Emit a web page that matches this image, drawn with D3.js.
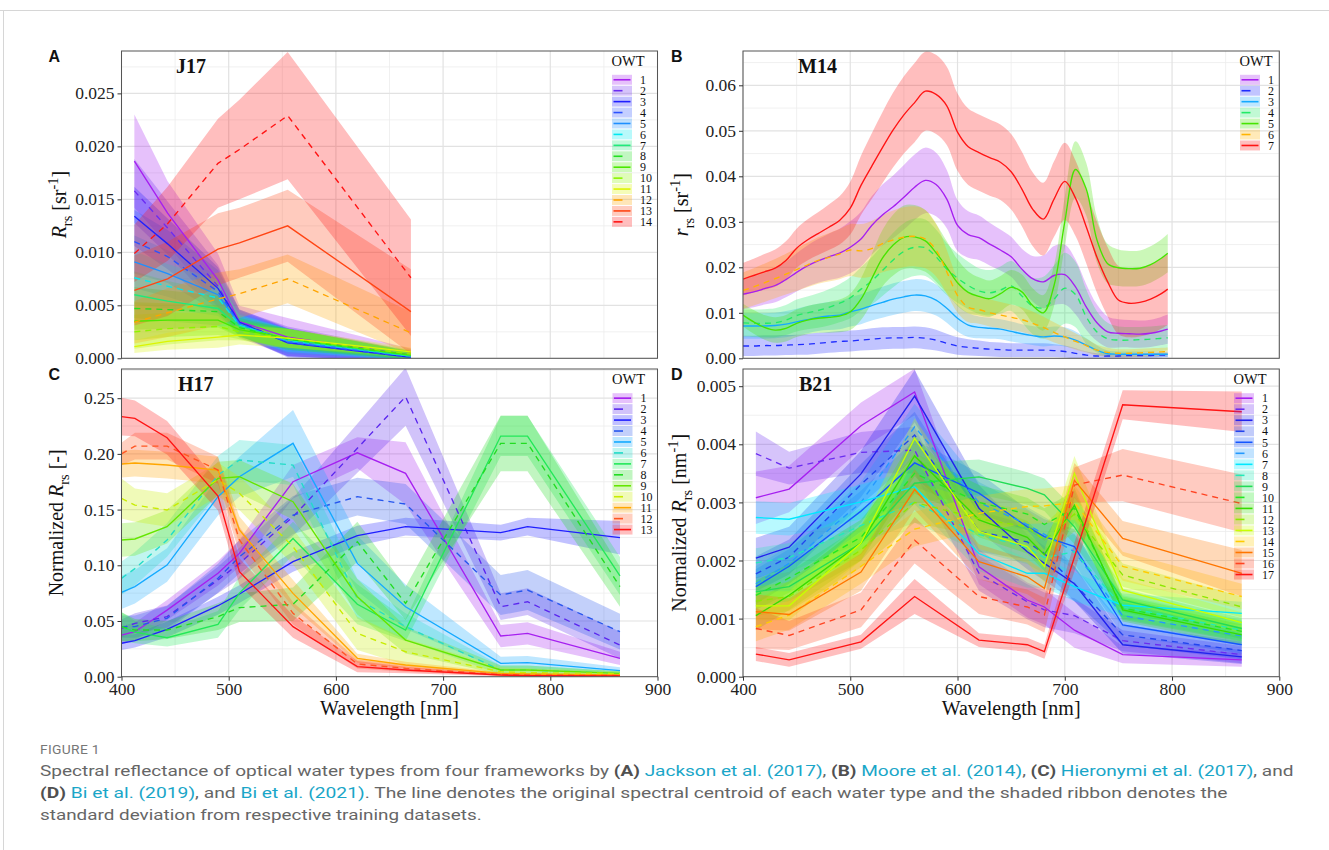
<!DOCTYPE html>
<html>
<head>
<meta charset="utf-8">
<script src="https://cdn.jsdelivr.net/npm/d3@7"></script>
<style>
  body { margin: 0; background: #fff; }
  svg { display: block; }
</style>
</head>
<body>
<svg id="fig" width="1329" height="850"></svg>
<script>
// ---------------- J17 (Jackson et al. 2017) ----------------
const j17Wavelengths = [412, 443, 490, 510, 555, 670];
const j17Labels = ["1","2","3","4","5","6","7","8","9","10","11","12","13","14"];
const j17Mean = [
  [0.0186, 0.0137, 0.0074, 0.00345, 0.0020, 0.0003],
  [0.0158, 0.0123, 0.0068, 0.0034, 0.0016, 0.0002],
  [0.0134, 0.0108, 0.0066, 0.0034, 0.00147, 0.0001],
  [0.0110, 0.0096, 0.0063, 0.0033, 0.0015, 0.0001],
  [0.0091, 0.0080, 0.0060, 0.0032, 0.0016, 0.0002],
  [0.0076, 0.0068, 0.0057, 0.0031, 0.0017, 0.0002],
  [0.0060, 0.0054, 0.0047, 0.0030, 0.0018, 0.0002],
  [0.0047, 0.0046, 0.0044, 0.0029, 0.0018, 0.0003],
  [0.0035, 0.0036, 0.0036, 0.0027, 0.0019, 0.0003],
  [0.0025, 0.0028, 0.0030, 0.0025, 0.0019, 0.0004],
  [0.0011, 0.0016, 0.0020, 0.0022, 0.0019, 0.0006],
  [0.0034, 0.0043, 0.0056, 0.0061, 0.0075, 0.0024],
  [0.0064, 0.0075, 0.0103, 0.0109, 0.0125, 0.0044],
  [0.0099, 0.0127, 0.0184, 0.0197, 0.0229, 0.0076]
];
const j17Sd = [
  [0.0044, 0.0030, 0.0025, 0.0015, 0.0018, 0.0006],
  [0.0030, 0.0025, 0.0020, 0.0012, 0.0014, 0.0005],
  [0.0028, 0.0024, 0.0020, 0.0012, 0.0014, 0.0005],
  [0.0030, 0.0025, 0.0020, 0.0012, 0.0013, 0.0005],
  [0.0025, 0.0022, 0.0018, 0.0011, 0.0012, 0.0004],
  [0.0025, 0.0021, 0.0017, 0.0010, 0.0011, 0.0004],
  [0.0022, 0.0019, 0.0016, 0.0010, 0.0010, 0.0004],
  [0.0020, 0.0018, 0.0015, 0.0009, 0.0010, 0.0004],
  [0.0018, 0.0016, 0.0014, 0.0009, 0.0009, 0.0004],
  [0.0016, 0.0015, 0.0013, 0.0008, 0.0009, 0.0004],
  [0.0006, 0.0008, 0.0010, 0.0009, 0.0009, 0.0004],
  [0.0020, 0.0023, 0.0025, 0.0023, 0.0023, 0.0020],
  [0.0033, 0.0035, 0.0034, 0.0033, 0.0034, 0.0040],
  [0.0027, 0.0035, 0.0042, 0.0047, 0.0060, 0.0055]
];
const j17Ticks = [0, 0.005, 0.010, 0.015, 0.020, 0.025];

// ---------------- M14 (Moore et al. 2014) ----------------
const m14Wavelengths = [400,410,420,430,440,450,460,470,480,490,500,510,520,530,540,550,560,570,580,590,
  600,610,620,630,640,650,660,670,680,690,700,710,720,730,740,750,760,770,780,790,796];
const m14Labels = ["1","2","3","4","5","6","7"];
const m14Mean = [
  [.0141,.0146,.0153,.0160,.0173,.0189,.0203,.0214,.0223,.0231,.0244,.0262,.0292,.0315,.0333,.0354,.0376,.0391,.0382,.0350,
   .0292,.0272,.0265,.0251,.0238,.0223,.0196,.0175,.0168,.0182,.0184,.0157,.0113,.0078,.0058,.0055,.0054,.0053,.0055,.0060,.0064],
  [.0027,.0027,.0028,.0028,.0029,.0030,.0031,.0033,.0035,.0037,.0038,.0040,.0042,.0044,.0045,.0045,.0046,.0044,.0040,.0033,
   .0027,.0024,.0022,.0020,.0019,.0018,.0018,.0018,.0018,.0017,.0015,.0011,.0007,.0005,.0005,.0005,.0006,.0006,.0006,.0007,.0007],
  [.0071,.0071,.0071,.0072,.0075,.0080,.0085,.0090,.0093,.0095,.0102,.0108,.0116,.0123,.0130,.0135,.0139,.0137,.0128,.0110,
   .0088,.0073,.0068,.0066,.0064,.0059,.0054,.0050,.0047,.0049,.0047,.0040,.0029,.0018,.0010,.0009,.0009,.0009,.0009,.0009,.0009],
  [.0078,.0077,.0077,.0078,.0084,.0094,.0100,.0105,.0112,.0121,.0133,.0152,.0170,.0193,.0216,.0235,.0244,.0243,.0223,.0196,
   .0176,.0160,.0148,.0144,.0150,.0159,.0137,.0115,.0111,.0130,.0154,.0140,.0091,.0058,.0043,.0040,.0040,.0041,.0042,.0044,.0045],
  [.0095,.0080,.0068,.0062,.0066,.0077,.0084,.0088,.0090,.0093,.0102,.0130,.0175,.0220,.0249,.0266,.0267,.0258,.0232,.0200,
   .0166,.0145,.0136,.0131,.0142,.0156,.0146,.0116,.0100,.0160,.0300,.0415,.0372,.0260,.0208,.0199,.0197,.0198,.0206,.0220,.0231],
  [.0149,.0157,.0166,.0175,.0185,.0195,.0205,.0215,.0222,.0229,.0238,.0236,.0241,.0252,.0260,.0266,.0268,.0262,.0238,.0190,
   .0138,.0112,.0107,.0100,.0095,.0090,.0085,.0077,.0068,.0057,.0047,.0037,.0028,.0018,.0013,.0011,.0011,.0012,.0013,.0014,.0015],
  [.0174,.0182,.0190,.0198,.0215,.0242,.0260,.0274,.0288,.0303,.0330,.0380,.0422,.0463,.0502,.0535,.0562,.0587,.0580,.0555,
   .0497,.0465,.0452,.0441,.0431,.0410,.0372,.0328,.0306,.0350,.0389,.0352,.0289,.0222,.0168,.0128,.0121,.0123,.0130,.0142,.0152]
];
const m14Sd = [
  [.0033,.0034,.0035,.0037,.0039,.0042,.0045,.0048,.0051,.0054,.0057,.0060,.0064,.0067,.0069,.0071,.0072,.0072,.0070,.0064,
   .0056,.0051,.0049,.0047,.0045,.0044,.0045,.0050,.0058,.0065,.0066,.0060,.0050,.0040,.0034,.0031,.0030,.0030,.0030,.0031,.0032],
  [.0022,.0022,.0022,.0022,.0022,.0022,.0023,.0023,.0023,.0023,.0023,.0023,.0024,.0024,.0024,.0024,.0024,.0024,.0023,.0021,
   .0019,.0018,.0017,.0016,.0016,.0015,.0015,.0015,.0015,.0014,.0013,.0011,.0008,.0006,.0005,.0005,.0005,.0005,.0005,.0005,.0005],
  [.0028,.0028,.0028,.0028,.0029,.0029,.0030,.0030,.0031,.0031,.0032,.0033,.0033,.0034,.0035,.0035,.0035,.0035,.0034,.0032,
   .0029,.0026,.0024,.0023,.0022,.0022,.0021,.0021,.0021,.0021,.0021,.0019,.0015,.0010,.0007,.0006,.0006,.0006,.0006,.0006,.0006],
  [.0030,.0030,.0031,.0032,.0033,.0035,.0036,.0038,.0040,.0042,.0045,.0048,.0052,.0056,.0060,.0062,.0063,.0062,.0060,.0057,
   .0054,.0052,.0050,.0050,.0052,.0055,.0058,.0062,.0068,.0074,.0078,.0072,.0060,.0045,.0035,.0030,.0029,.0028,.0028,.0028,.0028],
  [.0025,.0026,.0027,.0028,.0029,.0030,.0031,.0032,.0034,.0036,.0040,.0046,.0054,.0062,.0067,.0070,.0070,.0068,.0063,.0057,
   .0051,.0046,.0042,.0040,.0039,.0038,.0038,.0038,.0039,.0045,.0055,.0062,.0058,.0050,.0043,.0040,.0039,.0039,.0040,.0041,.0042],
  [.0040,.0041,.0042,.0043,.0045,.0047,.0049,.0051,.0053,.0055,.0057,.0059,.0061,.0063,.0065,.0066,.0066,.0064,.0058,.0048,
   .0038,.0033,.0031,.0030,.0029,.0028,.0027,.0026,.0024,.0022,.0020,.0018,.0015,.0012,.0010,.0009,.0009,.0009,.0009,.0009,.0009],
  [.0036,.0037,.0039,.0041,.0042,.0043,.0045,.0047,.0050,.0053,.0058,.0065,.0072,.0078,.0082,.0085,.0087,.0087,.0087,.0086,
   .0085,.0084,.0084,.0084,.0083,.0083,.0082,.0081,.0080,.0083,.0085,.0083,.0080,.0078,.0076,.0075,.0075,.0075,.0076,.0077,.0078]
];
const m14Ticks = [0, 0.01, 0.02, 0.03, 0.04, 0.05, 0.06];

// ---------------- H17 (Hieronymi et al. 2017) ----------------
const h17Wavelengths = [400, 412.5, 442.5, 490, 510, 560, 620, 665, 753.75, 778.75, 865];
const h17Labels = ["1","2","3","4","5","6","7","8","9","10","11","12","13"];
const h17Mean = [
  [.0374, .0404, .0598, .0928, .1107, .1750, .2010, .1825, .0365, .0389, .0165],
  [.0434, .0479, .0539, .0868, .1017, .1436, .2050, .2513, .0628, .0673, .0284],
  [.0300, .0323, .0425, .0637, .0742, .1032, .1266, .1347, .1293, .1347, .1248],
  [.0450, .0450, .0524, .0883, .1077, .1451, .1616, .1550, .0733, .0778, .0404],
  [.0757, .0808, .1002, .1616, .1795, .2095, .1017, .0628, .0120, .0126, .0054],
  [.0883, .0970, .1227, .1810, .1945, .1900, .0700, .0450, .0060, .0060, .0030],
  [.0450, .0400, .0350, .0470, .0750, .1240, .0650, .0419, .2160, .2160, .0904],
  [.0449, .0419, .0419, .0539, .0620, .0650, .1212, .0658, .2095, .2095, .0808],
  [.1227, .1236, .1346, .1780, .1795, .1571, .0718, .0329, .0060, .0060, .0030],
  [.1600, .1540, .1496, .1770, .1646, .1167, .0389, .0224, .0045, .0036, .0030],
  [.1909, .1918, .1900, .1855, .1317, .0748, .0165, .0105, .0030, .0024, .0015],
  [.2000, .2070, .2070, .1855, .1227, .0569, .0114, .0075, .0020, .0015, .0010],
  [.2334, .2319, .2145, .1622, .0943, .0449, .0090, .0060, .0015, .0009, .0006]
];
const h17Sd = [
  [.008, .008, .009, .011, .012, .015, .014, .028, .010, .010, .006],
  [.008, .009, .010, .012, .014, .017, .022, .026, .012, .012, .012],
  [.006, .006, .007, .008, .008, .009, .009, .008, .007, .008, .015],
  [.010, .010, .011, .013, .015, .017, .017, .018, .018, .018, .016],
  [.015, .015, .015, .017, .018, .030, .025, .020, .006, .006, .003],
  [.015, .015, .015, .017, .018, .018, .018, .012, .004, .004, .002],
  [.013, .010, .008, .012, .015, .015, .018, .010, .018, .018, .017],
  [.013, .010, .008, .012, .013, .015, .018, .015, .025, .025, .018],
  [.015, .015, .015, .015, .015, .016, .016, .012, .004, .004, .002],
  [.018, .015, .015, .015, .015, .016, .015, .012, .004, .004, .002],
  [.012, .012, .012, .012, .012, .012, .004, .003, .001, .001, .001],
  [.010, .012, .012, .012, .012, .010, .004, .003, .001, .001, .001],
  [.017, .016, .015, .013, .012, .010, .005, .003, .001, .001, .001]
];
const h17Ticks = [0, 0.05, 0.10, 0.15, 0.20, 0.25];

// ---------------- B21 (Bi et al. 2019, 2021) ----------------
const b21Wavelengths = [412, 443, 510, 560, 620, 665, 681, 709, 754, 865];
const b21Labels = ["1","2","3","4","5","6","7","8","9","10","11","12","13","14","15","16","17"];
const b21Mean = [
  [.00308, .00323, .00432, .00490, .00189, .00132, .00120, .00080, .00038, .00029],
  [.00384, .00359, .00386, .00390, .00178, .00129, .00115, .00105, .00062, .00038],
  [.00204, .00223, .00349, .00483, .00290, .00215, .00195, .00160, .00055, .00034],
  [.00177, .00206, .00331, .00416, .00250, .00232, .00212, .00160, .00072, .00045],
  [.00155, .00190, .00285, .00368, .00316, .00258, .00241, .00224, .00089, .00055],
  [.00160, .00195, .00300, .00430, .00300, .00262, .00245, .00215, .00105, .00070],
  [.00274, .00271, .00301, .00327, .00212, .00178, .00178, .00155, .00123, .00109],
  [.00196, .00205, .00260, .00300, .00245, .00222, .00205, .00215, .00120, .00080],
  [.00146, .00155, .00230, .00333, .00344, .00324, .00313, .00258, .00132, .00083],
  [.00140, .00170, .00240, .00350, .00300, .00280, .00262, .00290, .00118, .00078],
  [.00105, .00140, .00230, .00380, .00270, .00240, .00210, .00295, .00115, .00072],
  [.00130, .00138, .00218, .00300, .00272, .00258, .00235, .00280, .00175, .00120],
  [.00122, .00122, .00230, .00410, .00250, .00224, .00190, .00350, .00149, .00093],
  [.00086, .00106, .00190, .00254, .00281, .00293, .00294, .00300, .00190, .00138],
  [.00112, .00107, .00180, .00322, .00198, .00172, .00152, .00338, .00238, .00178],
  [.00083, .00071, .00115, .00235, .00138, .00120, .00106, .00330, .00347, .00298],
  [.00039, .00029, .00060, .00138, .00063, .00055, .00043, .00206, .00468, .00456]
];
const b21Sd = [
  [.00045, .00040, .00040, .00040, .00030, .00030, .00030, .00030, .00015, .00012],
  [.00038, .00028, .00035, .00040, .00030, .00030, .00030, .00030, .00018, .00015],
  [.00035, .00035, .00040, .00045, .00040, .00030, .00030, .00030, .00015, .00012],
  [.00030, .00030, .00035, .00040, .00035, .00030, .00030, .00030, .00018, .00015],
  [.00030, .00030, .00035, .00040, .00035, .00030, .00030, .00030, .00018, .00015],
  [.00030, .00030, .00035, .00040, .00035, .00030, .00030, .00030, .00018, .00015],
  [.00028, .00028, .00030, .00030, .00030, .00025, .00025, .00025, .00020, .00020],
  [.00025, .00025, .00030, .00035, .00030, .00028, .00028, .00030, .00020, .00018],
  [.00025, .00025, .00030, .00035, .00030, .00028, .00028, .00030, .00020, .00018],
  [.00025, .00025, .00030, .00035, .00030, .00028, .00028, .00030, .00020, .00018],
  [.00025, .00025, .00030, .00035, .00030, .00028, .00028, .00030, .00020, .00018],
  [.00025, .00025, .00030, .00035, .00030, .00028, .00028, .00030, .00020, .00018],
  [.00025, .00025, .00030, .00035, .00030, .00028, .00028, .00030, .00020, .00018],
  [.00025, .00025, .00030, .00030, .00030, .00030, .00030, .00030, .00025, .00022],
  [.00030, .00028, .00032, .00035, .00030, .00030, .00030, .00030, .00030, .00040],
  [.00035, .00025, .00030, .00040, .00030, .00030, .00030, .00030, .00045, .00050],
  [.00012, .00012, .00012, .00030, .00012, .00012, .00012, .00025, .00025, .00035]
];
const b21Ticks = [0, 0.001, 0.002, 0.003, 0.004, 0.005];

const wavelengthTicks = [400, 500, 600, 700, 800, 900];

// Colour palettes (odd types solid, even types dashed)
const j17Colors = ["#a61ff0","#6b2cf2","#1f1fff","#2b52ff","#1e8fff","#00e8f0","#1fea7a","#22e022","#4ae800","#8cf500","#dcf500","#ffa400","#ff4514","#ff1414"];
const m14Colors = ["#a61ff0","#1f2cff","#14aaff","#22ea66","#46e400","#ffb400","#ff1414"];
const h17Colors = ["#a61ff0","#5a26ee","#1f1fff","#2656ee","#14aaff","#22dcc8","#22e858","#22dc22","#64e600","#c8ec00","#ffa600","#ff5522","#ff1414"];
const b21Colors = ["#a61ff0","#6a2cf0","#2222ee","#2244ee","#1456ff","#2399ff","#00e8ff","#22eab8","#22dc55","#22e822","#36dc00","#8ce800","#c8ff00","#ffcc00","#ff7600","#ff4422","#ff1414"];

const SERIF = '"Liberation Serif","Times New Roman",Times,serif';
const SANS = '"Liberation Sans",Arial,Helvetica,sans-serif';
const svg = d3.select("#fig");

// page frame
svg.append("line").attr("x1", 0).attr("x2", 1329).attr("y1", 10.5).attr("y2", 10.5)
  .attr("stroke", "#d6d6d6").attr("stroke-width", 1);
svg.append("line").attr("x1", 3.5).attr("x2", 3.5).attr("y1", 10.5).attr("y2", 850)
  .attr("stroke", "#d6d6d6").attr("stroke-width", 1);

let clipId = 0;

function addRichText(sel, parts, size) {
  // parts: {t, it, sub, sup}
  let shift = 0;
  parts.forEach(p => {
    const ts = sel.append("tspan").text(p.t);
    let target = 0;
    if (p.sub) { target = size * 0.32; ts.attr("font-size", size * 0.72); }
    else if (p.sup) { target = -size * 0.42; ts.attr("font-size", size * 0.72); }
    if (p.it) ts.attr("font-style", "italic");
    if (target !== shift) { ts.attr("dy", target - shift); shift = target; }
  });
}

function drawPanel(cfg) {
  const x = d3.scaleLinear().domain([400, 900]).range([cfg.left, cfg.right]);
  const y = d3.scaleLinear().domain([0, cfg.ymax]).range([cfg.bottom, cfg.top]);
  const g = svg.append("g");

  g.append("rect").attr("x", cfg.left).attr("y", cfg.top)
    .attr("width", cfg.right - cfg.left).attr("height", cfg.bottom - cfg.top).attr("fill", "#fff");

  // minor grid
  const minorX = [450, 550, 650, 750, 850];
  const minorY = [];
  for (let i = 0; i < cfg.ticks.length; i++) {
    const v = cfg.ticks[i] + cfg.step / 2;
    if (v < cfg.ymax) minorY.push(v);
  }
  g.selectAll(null).data(minorX).enter().append("line")
    .attr("x1", d => x(d)).attr("x2", d => x(d)).attr("y1", cfg.top).attr("y2", cfg.bottom)
    .attr("stroke", "#ececec").attr("stroke-width", 0.8);
  g.selectAll(null).data(minorY).enter().append("line")
    .attr("x1", cfg.left).attr("x2", cfg.right).attr("y1", d => y(d)).attr("y2", d => y(d))
    .attr("stroke", "#ececec").attr("stroke-width", 0.8);
  // major grid
  g.selectAll(null).data(wavelengthTicks).enter().append("line")
    .attr("x1", d => x(d)).attr("x2", d => x(d)).attr("y1", cfg.top).attr("y2", cfg.bottom)
    .attr("stroke", "#e2e2e2").attr("stroke-width", 1.2);
  g.selectAll(null).data(cfg.ticks).enter().append("line")
    .attr("x1", cfg.left).attr("x2", cfg.right).attr("y1", d => y(d)).attr("y2", d => y(d))
    .attr("stroke", "#e2e2e2").attr("stroke-width", 1.2);

  // clip to plotting region
  const cid = "clip" + (clipId++);
  svg.append("clipPath").attr("id", cid).append("rect")
    .attr("x", cfg.left).attr("y", cfg.top)
    .attr("width", cfg.right - cfg.left).attr("height", cfg.bottom - cfg.top);
  const plot = g.append("g").attr("clip-path", `url(#${cid})`);

  const series = cfg.mean.map((vals, i) => ({
    i,
    pts: vals.map((v, k) => ({ w: cfg.wl[k], v, sd: cfg.sd[i][k] }))
  }));

  const area = d3.area().curve(cfg.curve)
    .x(d => x(d.w)).y0(d => y(d.v - d.sd)).y1(d => y(d.v + d.sd));
  const line = d3.line().curve(cfg.curve).x(d => x(d.w)).y(d => y(d.v));

  plot.selectAll("path.rib").data(series).enter().append("path")
    .attr("class", "rib")
    .attr("d", d => area(d.pts))
    .attr("fill", d => cfg.colors[d.i]).attr("fill-opacity", 0.28).attr("stroke", "none");

  plot.selectAll("path.ln").data(series).enter().append("path")
    .attr("class", "ln")
    .attr("d", d => line(d.pts))
    .attr("fill", "none").attr("stroke", d => cfg.colors[d.i]).attr("stroke-width", 1.35)
    .attr("stroke-dasharray", d => d.i % 2 === 1 ? "6,5" : null);

  // panel border
  g.append("rect").attr("x", cfg.left).attr("y", cfg.top)
    .attr("width", cfg.right - cfg.left).attr("height", cfg.bottom - cfg.top)
    .attr("fill", "none").attr("stroke", "#555").attr("stroke-width", 1);

  // y axis
  const yAxis = g.append("g").attr("transform", `translate(${cfg.left},0)`)
    .call(d3.axisLeft(y).tickValues(cfg.ticks).tickFormat(d3.format(cfg.fmt)).tickSize(4).tickPadding(3));
  yAxis.select(".domain").remove();
  yAxis.selectAll(".tick line").attr("stroke", "#333");
  yAxis.selectAll(".tick text").attr("font-family", SERIF).attr("font-size", 17.5).attr("fill", "#222");

  // x axis (bottom row only)
  if (cfg.showX) {
    const xAxis = g.append("g").attr("transform", `translate(0,${cfg.bottom})`)
      .call(d3.axisBottom(x).tickValues(wavelengthTicks).tickFormat(d3.format("d")).tickSize(4).tickPadding(2));
    xAxis.select(".domain").remove();
    xAxis.selectAll(".tick line").attr("stroke", "#333");
    xAxis.selectAll(".tick text").attr("font-family", SERIF).attr("font-size", 17.5).attr("fill", "#222");
    g.append("text").attr("x", (cfg.left + cfg.right) / 2).attr("y", cfg.bottom + 38)
      .attr("text-anchor", "middle").attr("font-family", SERIF).attr("font-size", 20).attr("fill", "#111")
      .text("Wavelength [nm]");
  }

  // y axis title
  const yt = g.append("text")
    .attr("transform", `translate(${cfg.ytitleX},${(cfg.top + cfg.bottom) / 2}) rotate(-90)`)
    .attr("text-anchor", "middle").attr("font-family", SERIF).attr("font-size", 20).attr("fill", "#111");
  addRichText(yt, cfg.ytitle, 20);

  // panel letter and dataset title
  g.append("text").attr("x", cfg.letterX).attr("y", cfg.top + 10.5)
    .attr("font-family", SANS).attr("font-weight", "bold").attr("font-size", 16).attr("fill", "#111")
    .text(cfg.letter);
  g.append("text").attr("x", cfg.titleX).attr("y", cfg.top + 22)
    .attr("font-family", SERIF).attr("font-weight", "bold").attr("font-size", 20).attr("fill", "#111")
    .text(cfg.title);

  // legend
  const lg = g.append("g");
  lg.append("text").attr("x", cfg.legX).attr("y", cfg.legTop - 8.5)
    .attr("font-family", SERIF).attr("font-size", 14.5).attr("fill", "#111").text("OWT");
  const rowH = cfg.legRow, keyW = 21;
  cfg.labels.forEach((lab, i) => {
    const ry = cfg.legTop + i * rowH;
    lg.append("rect").attr("x", cfg.legX + 0.5).attr("y", ry + 0.5)
      .attr("width", keyW - 1).attr("height", rowH - 1)
      .attr("fill", cfg.colors[i]).attr("fill-opacity", 0.28);
    const dashed = i % 2 === 1;
    lg.append("line")
      .attr("x1", cfg.legX + 2).attr("x2", cfg.legX + (dashed ? 11 : keyW - 2))
      .attr("y1", ry + rowH / 2).attr("y2", ry + rowH / 2)
      .attr("stroke", cfg.colors[i]).attr("stroke-width", 1.6);
    lg.append("text").attr("x", cfg.legX + keyW + 7.5).attr("y", ry + rowH - 1.3)
      .attr("font-family", SERIF).attr("font-size", 12).attr("fill", "#111").text(lab);
  });
}

drawPanel({
  left: 121.5, right: 657.5, top: 51, bottom: 358.3, ymax: 0.029, step: 0.005, ticks: j17Ticks, fmt: ".3f",
  wl: j17Wavelengths, mean: j17Mean, sd: j17Sd, colors: j17Colors, labels: j17Labels, curve: d3.curveLinear,
  showX: false, letter: "A", letterX: 48.5, title: "J17", titleX: 176,
  ytitleX: 66, ytitle: [{t: "R", it: true}, {t: "rs", sub: true}, {t: " [sr"}, {t: "-1", sup: true}, {t: "]"}],
  legX: 611.5, legTop: 74.3, legRow: 10.93
});
drawPanel({
  left: 743, right: 1279.3, top: 51, bottom: 358.3, ymax: 0.06754, step: 0.01, ticks: m14Ticks, fmt: ".2f",
  wl: m14Wavelengths, mean: m14Mean, sd: m14Sd, colors: m14Colors, labels: m14Labels, curve: d3.curveCatmullRom,
  showX: false, letter: "B", letterX: 671, title: "M14", titleX: 798,
  ytitleX: 688, ytitle: [{t: "r", it: true}, {t: "rs", sub: true}, {t: " [sr"}, {t: "-1", sup: true}, {t: "]"}],
  legX: 1239.5, legTop: 74.3, legRow: 10.95
});
drawPanel({
  left: 121.5, right: 657.5, top: 369, bottom: 676.7, ymax: 0.2762, step: 0.05, ticks: h17Ticks, fmt: ".2f",
  wl: h17Wavelengths, mean: h17Mean, sd: h17Sd, colors: h17Colors, labels: h17Labels, curve: d3.curveLinear,
  showX: true, letter: "C", letterX: 48.5, title: "H17", titleX: 178,
  ytitleX: 63, ytitle: [{t: "Normalized "}, {t: "R", it: true}, {t: "rs", sub: true}, {t: " [-]"}],
  legX: 612, legTop: 392.7, legRow: 10.95
});
drawPanel({
  left: 743, right: 1279.3, top: 369, bottom: 676.7, ymax: 0.005296, step: 0.001, ticks: b21Ticks, fmt: ".3f",
  wl: b21Wavelengths, mean: b21Mean, sd: b21Sd, colors: b21Colors, labels: b21Labels, curve: d3.curveLinear,
  showX: true, letter: "D", letterX: 671, title: "B21", titleX: 799,
  ytitleX: 686, ytitle: [{t: "Normalized "}, {t: "R", it: true}, {t: "rs", sub: true}, {t: " [nm"}, {t: "-1", sup: true}, {t: "]"}],
  legX: 1233.5, legTop: 392.7, legRow: 11.02
});

// ---------------- caption ----------------
const CAP = '"Liberation Sans Narrow",Roboto,"Open Sans",sans-serif';
const capText = "#666666", capLink = "#1aa6c8", capBold = "#505050";
const captionLines = [
  [["Spectral reflectance of optical water types from four frameworks by ", "n"], ["(A)", "b"], [" ", "n"],
   ["Jackson et al. (2017)", "l"], [", ", "n"], ["(B)", "b"], [" ", "n"], ["Moore et al. (2014)", "l"], [", ", "n"],
   ["(C)", "b"], [" ", "n"], ["Hieronymi et al. (2017)", "l"], [", and", "n"]],
  [["(D)", "b"], [" ", "n"], ["Bi et al. (2019)", "l"], [", and ", "n"], ["Bi et al. (2021)", "l"],
   [". The line denotes the original spectral centroid of each water type and the shaded ribbon denotes the", "n"]],
  [["standard deviation from respective training datasets.", "n"]]
];
const captionWidths = [1254, 1189, 442];
const captionBaselines = [776, 798, 820];

function fitText(node, targetW) {
  const w = node.node().getComputedTextLength();
  return w > 0 ? targetW / w : 1;
}

const fig = svg.append("g").attr("transform", "translate(40,754)");
const figT = fig.append("text").attr("font-family", CAP).attr("font-size", 12.5).attr("fill", "#777")
  .attr("letter-spacing", 0.3).text("FIGURE 1");
fig.attr("transform", `translate(40,754) scale(${fitText(figT, 60)},1)`);

captionLines.forEach((parts, li) => {
  const lg = svg.append("g");
  const t = lg.append("text").attr("font-family", CAP).attr("font-size", 15.5).attr("fill", capText)
    .style("white-space", "pre");
  parts.forEach(([s, k]) => {
    const ts = t.append("tspan").text(s);
    if (k === "l") ts.attr("fill", capLink);
    if (k === "b") ts.attr("fill", capBold).attr("font-weight", "bold");
  });
  const s = fitText(t, captionWidths[li]);
  lg.attr("transform", `translate(40,${captionBaselines[li]}) scale(${s},1)`);
});
</script>
</body>
</html>
